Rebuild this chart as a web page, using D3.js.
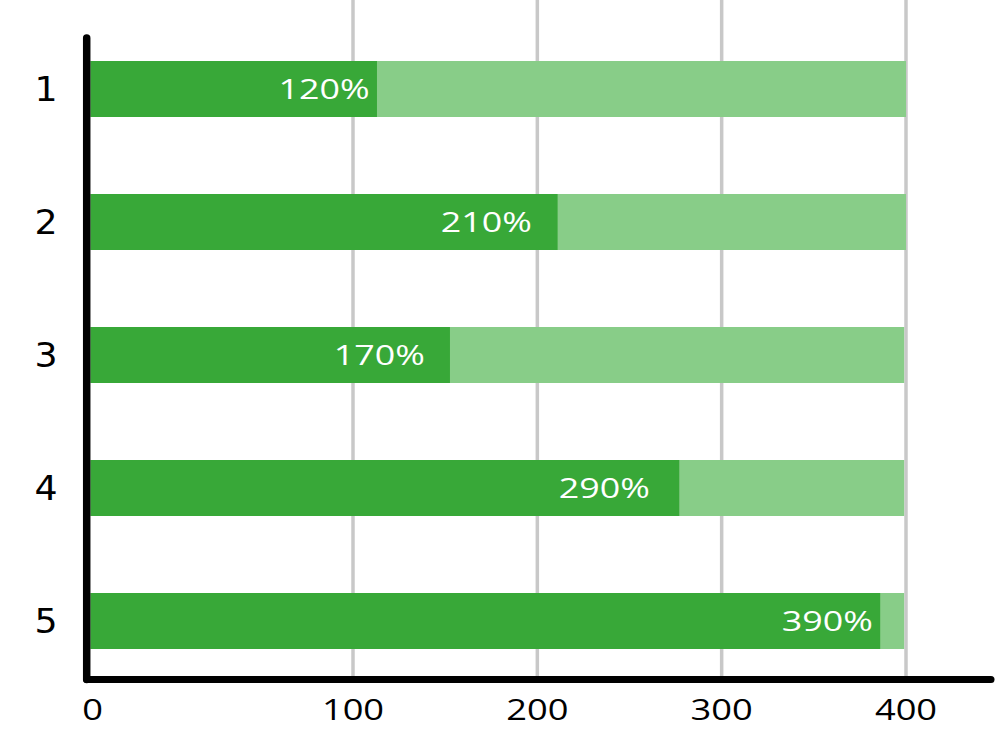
<!DOCTYPE html>
<html><head><meta charset="utf-8">
<script src="https://cdn.jsdelivr.net/npm/d3@7"></script>
<style>html,body{margin:0;padding:0;background:#fff;}svg{display:block;}</style>
</head><body>
<svg id="chart" width="1000" height="750"></svg>
<script>
// Data
const categories = ["1", "2", "3", "4", "5"];
const barValues = [113, 211, 152.6, 277, 386];        // dark bar length (axis units)
const totalValues = [400, 400, 399, 399, 399];        // light background bar length
const barLabels = ["120%", "210%", "170%", "290%", "390%"];
const labelEnds = [109, 197, 139, 261, 382];          // where each label ends (axis units)
const tickValues = [0, 100, 200, 300, 400];
const tickLabels = ["0", "100", "200", "300", "400"];

const svg = d3.select("#chart");
const x = d3.scaleLinear().domain([0, 100, 400]).range([90.5, 353, 906]);
const y = d3.scalePoint().domain(categories).range([89, 621]);
const barH = 56;
const axisY = 679.5, axisX = 86.7;

// gridlines
svg.append("g").selectAll("line").data(tickValues.slice(1)).join("line")
  .attr("x1", d => x(d)).attr("x2", d => x(d))
  .attr("y1", 0).attr("y2", axisY)
  .attr("stroke", "#c8c8c8").attr("stroke-width", 3.5);

// light bars
svg.append("g").selectAll("rect").data(categories).join("rect")
  .attr("x", x(0)).attr("y", d => y(d) - barH / 2)
  .attr("width", (d, i) => x(totalValues[i]) - x(0)).attr("height", barH)
  .attr("fill", "#88cd88");

// dark bars
svg.append("g").selectAll("rect").data(categories).join("rect")
  .attr("x", x(0)).attr("y", d => y(d) - barH / 2)
  .attr("width", (d, i) => x(barValues[i]) - x(0)).attr("height", barH)
  .attr("fill", "#38a838");

// bar labels (horizontally stretched like the reference)
svg.append("g").selectAll("text").data(categories).join("text")
  .attr("transform", (d, i) => `translate(${x(labelEnds[i])},${y(d) + 10}) scale(1.28,1)`)
  .attr("text-anchor", "end")
  .attr("fill", "#fff").attr("font-family", "Open Sans")
  .attr("font-size", 28)
  .text((d, i) => barLabels[i]);

// axes lines
svg.append("line").attr("x1", axisX).attr("x2", axisX).attr("y1", 38).attr("y2", axisY)
  .attr("stroke", "#000").attr("stroke-width", 7.5).attr("stroke-linecap", "round");
svg.append("line").attr("x1", axisX).attr("x2", 991).attr("y1", axisY).attr("y2", axisY)
  .attr("stroke", "#000").attr("stroke-width", 7).attr("stroke-linecap", "round");

// x tick labels
svg.append("g").selectAll("text").data(tickValues).join("text")
  .attr("transform", (d, i) => `translate(${i === 0 ? x(d) + 2 : x(d)},720) scale(1.25,1)`)
  .attr("text-anchor", "middle").attr("font-family", "Open Sans")
  .attr("font-size", 29).attr("fill", "#000")
  .text((d, i) => tickLabels[i]);

// y labels
svg.append("g").selectAll("text").data(categories).join("text")
  .attr("transform", d => `translate(46,${y(d) + 12}) scale(1.1,1)`)
  .attr("text-anchor", "middle").attr("font-family", "DejaVu Sans")
  .attr("font-size", 33).attr("fill", "#000")
  .text(d => d);
</script>
</body></html>
